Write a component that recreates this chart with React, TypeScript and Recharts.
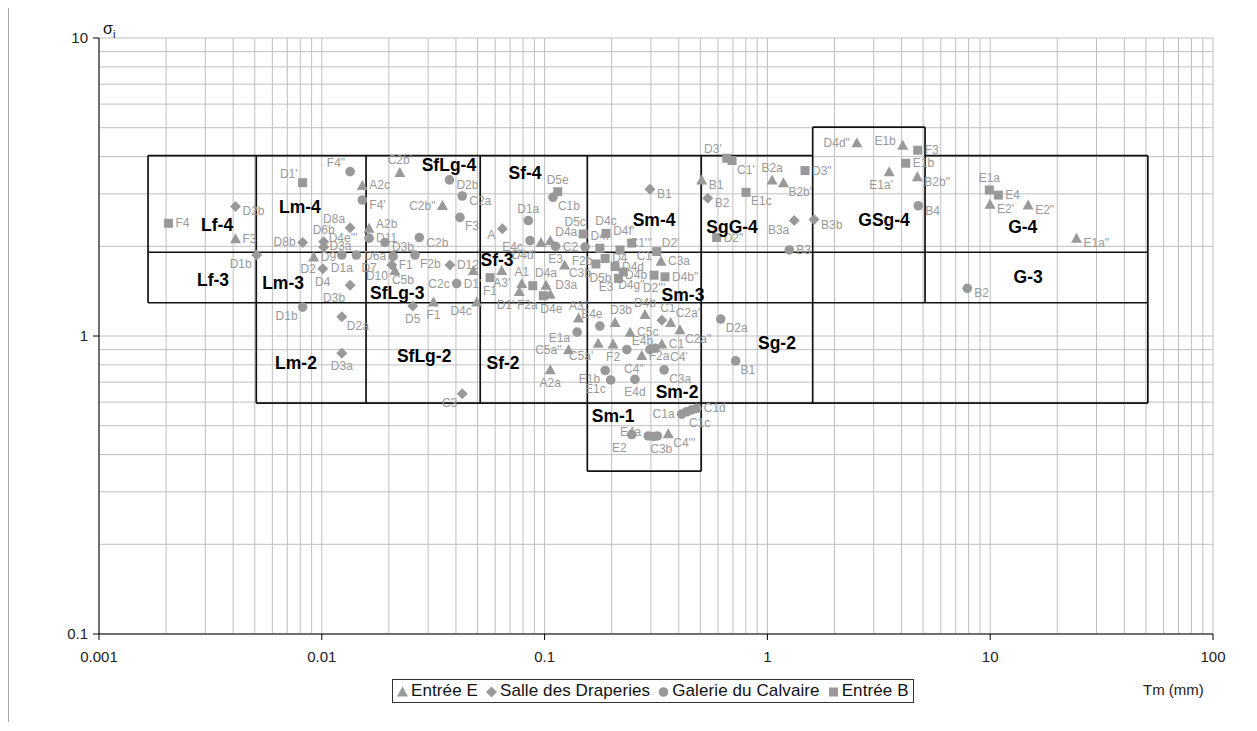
import React from 'react';
import { ScatterChart, Scatter, XAxis, YAxis, ReferenceLine } from 'recharts';

// [Tm (mm), sigma, label, label side, second label?, its side?]
type Pt = [number, number, string, string, string?, string?];

const entreeE: Pt[] = [
  [0.0041, 2.12, 'F3', 'r'],
  [0.0092, 1.84, 'D9', 'r'],
  [0.0152, 3.2, 'A2c', 'r'],
  [0.0163, 2.3, 'A2b', 'rt'],
  [0.0213, 1.66, 'D10', 'lb', 'C5b', 'bRu'],
  [0.0224, 3.54, "C2b'", 't'],
  [0.0348, 2.74, 'C2b"', 'l'],
  [0.0317, 1.3, 'F1', 'b'],
  [0.0479, 1.66, '', ''],
  [0.0496, 1.3, 'D4c', 'bl'],
  [0.0642, 1.66, "A3'", 'b'],
  [0.079, 1.5, 'A1', 't'],
  [0.077, 1.41, "D1'", 'bbl', 'F2a', 'bR'],
  [0.0963, 2.06, "D4d'", 'bbl'],
  [0.106, 2.09, 'D4a', 'tr'],
  [0.1015, 1.48, 'D4a', 't'],
  [0.106, 1.38, 'D3a', 'tr'],
  [0.123, 1.73, 'F2b', 'rt'],
  [0.142, 1.15, 'A3"', 't'],
  [0.128, 0.9, 'C5a"', 'l'],
  [0.106, 0.77, 'A2a', 'b'],
  [0.174, 0.945, "C5a'", 'bbl'],
  [0.203, 0.94, 'F2', 'b'],
  [0.207, 1.11, 'D3b', 'tR'],
  [0.242, 1.03, 'C5c', 'r'],
  [0.273, 0.86, 'F2a', 'r', 'C4"', 'bL'],
  [0.282, 1.18, 'D4b', 't'],
  [0.336, 0.94, 'C1', 'r'],
  [0.368, 1.11, "C2a'", 'tr'],
  [0.405, 1.05, 'C2a"', 'br'],
  [0.359, 0.47, "C4'''", 'br'],
  [0.333, 1.78, 'C3a', 'r'],
  [0.507, 3.34, 'B1', 'rb'],
  [1.05, 3.34, 'B2a', 't'],
  [1.18, 3.27, "B2b'", 'br'],
  [2.52, 4.45, 'D4d"', 'l'],
  [4.05, 4.37, 'E1b', 'lt'],
  [3.52, 3.56, "E1a'", 'bL'],
  [4.71, 3.42, 'B2b"', 'rb'],
  [9.98, 2.77, "E2'", 'rb'],
  [14.8, 2.75, 'E2"', 'rb'],
  [24.4, 2.13, 'E1a"', 'rb'],
];

const salleDraperies: Pt[] = [
  [0.0041, 2.72, 'D2b', 'rb'],
  [0.0051, 1.87, 'D1b', 'bl'],
  [0.0082, 2.06, 'D8b', 'l'],
  [0.0102, 2.07, 'D6b', 't'],
  [0.0102, 1.99, "D4e'''", 'tr'],
  [0.0101, 1.68, 'D2', 'l', 'D4', 'b'],
  [0.0134, 2.31, 'D8a', 'tl'],
  [0.0134, 1.48, 'D3b', 'bbl'],
  [0.0123, 1.16, 'D2a', 'br'],
  [0.0123, 0.875, 'D3a', 'b'],
  [0.0206, 1.73, 'F1', 'r'],
  [0.0376, 1.73, 'D12', 'r'],
  [0.0256, 1.26, 'D5', 'b'],
  [0.0427, 0.64, 'C3', 'bl'],
  [0.0646, 2.29, 'A', 'lb'],
  [0.297, 3.11, 'B1', 'rb'],
  [0.54, 2.9, 'B2', 'rb'],
  [0.336, 1.13, 'C1', 'tR'],
  [1.32, 2.44, 'B3a', 'bl'],
  [1.62, 2.46, 'B3b', 'rb'],
];

const galerieCalvaire: Pt[] = [
  [0.0082, 1.25, 'D1b', 'bl'],
  [0.0134, 3.56, 'F4"', 'tl'],
  [0.0152, 2.86, "F4'", 'rb'],
  [0.0374, 3.34, 'D2b', 'rb'],
  [0.0427, 2.95, 'C2a', 'rb'],
  [0.0417, 2.5, 'F3', 'br'],
  [0.0163, 2.13, 'D11', 'r'],
  [0.0192, 2.06, 'D3b', 'rb'],
  [0.0274, 2.14, 'C2b', 'rb'],
  [0.0123, 1.87, 'D1a', 'b'],
  [0.0143, 1.87, 'D3a', 'tl', 'D7', 'bbr'],
  [0.0209, 1.85, 'D6a', 'l'],
  [0.0262, 1.87, 'F2b', 'br'],
  [0.0403, 1.5, "D1'", 'r', 'C2c', 'l'],
  [0.0845, 2.44, 'D1a', 't'],
  [0.109, 2.92, 'C1b', 'br'],
  [0.086, 2.09, 'E4c', 'lb'],
  [0.112, 2.0, 'E3', 'b'],
  [0.152, 1.99, 'C2', 'l'],
  [0.177, 1.08, 'E4e', 'tL'],
  [0.14, 1.03, 'E1a', 'lb'],
  [0.234, 0.9, 'E4b', 'tr'],
  [0.297, 0.9, '', ''],
  [0.313, 0.91, "C4'", 'brr'],
  [0.344, 0.77, 'C3a', 'br'],
  [0.187, 0.766, 'E1b', 'bl'],
  [0.198, 0.712, 'E1c', 'bl'],
  [0.2545, 0.715, 'E4d', 'b'],
  [0.412, 0.547, 'C1a', 'l'],
  [0.434, 0.557, '', ''],
  [0.457, 0.565, 'C1c', 'bR'],
  [0.482, 0.572, 'C1d', 'r'],
  [0.292, 0.462, 'E4a', 'lt'],
  [0.3075, 0.46, 'C3b', 'bR'],
  [0.3206, 0.462, '', ''],
  [0.246, 0.467, 'E2', 'bbl'],
  [0.617, 1.14, 'D2a', 'br'],
  [0.72, 0.825, 'B1', 'br'],
  [1.254, 1.944, 'B3', 'r'],
  [4.756, 2.736, 'B4', 'rb'],
  [7.894, 1.446, 'B2', 'rb'],
];

const entreeB: Pt[] = [
  [0.00205, 2.39, 'F4', 'r'],
  [0.0082, 3.27, "D1'", 'tl'],
  [0.0569, 1.57, 'F1', 'b'],
  [0.0885, 1.475, '', ''],
  [0.0987, 1.365, 'D4e', 'bR'],
  [0.1145, 3.05, 'D5e', 't'],
  [0.149, 2.2, 'D5c', 'tL'],
  [0.1886, 2.21, 'D4c', 't'],
  [0.177, 1.97, 'D4f', 't'],
  [0.17, 1.745, 'C3b', 'bl'],
  [0.218, 1.944, '', ''],
  [0.246, 2.05, "D4f'", 'tL', 'C1"', 'bbr'],
  [0.3186, 1.92, "C1'''", 'tl', "D2'", 'tr'],
  [0.187, 1.82, 'D4', 'r'],
  [0.207, 1.71, 'D4d', 'r'],
  [0.2255, 1.64, 'D4g"', 'bR'],
  [0.2145, 1.56, 'D5b', 'l', 'E3', 'bl'],
  [0.31, 1.6, 'D4b', 'l', "D2'''", 'b'],
  [0.347, 1.58, 'D4b"', 'r'],
  [0.657, 3.95, "D3'", 'tl'],
  [0.694, 3.88, "C1'", 'br'],
  [0.802, 3.035, 'E1c', 'br'],
  [1.475, 3.59, 'D3"', 'r'],
  [0.592, 2.14, 'D2"', 'r'],
  [4.726, 4.2, 'F3', 'r'],
  [4.176, 3.8, 'E1b', 'r'],
  [9.91, 3.09, 'E1a', 't'],
  [10.88, 2.97, 'E4', 'r'],
];

// facies classes: [name, Tm, sigma]
const classNames: [string, number, number][] = [
  ['Lf-4', 0.00339, 2.36],
  ['Lf-3', 0.00325, 1.54],
  ['Lm-4', 0.00798, 2.71],
  ['Lm-3', 0.0067, 1.51],
  ['Lm-2', 0.00766, 0.81],
  ['SfLg-4', 0.0372, 3.75],
  ['SfLg-3', 0.0218, 1.39],
  ['SfLg-2', 0.0288, 0.86],
  ['Sf-4', 0.0817, 3.52],
  ['Sf-3', 0.0612, 1.8],
  ['Sf-2', 0.0651, 0.81],
  ['Sm-4', 0.31, 2.45],
  ['Sm-3', 0.418, 1.37],
  ['Sm-2', 0.393, 0.649],
  ['Sm-1', 0.203, 0.54],
  ['SgG-4', 0.694, 2.32],
  ['Sg-2', 1.104, 0.947],
  ['GSg-4', 3.34, 2.45],
  ['G-4', 14.0, 2.32],
  ['G-3', 14.8, 1.58],
];

// class box edges: horizontal [y, x1, x2], vertical [x, y1, y2]
const boxH: [number, number, number][] = [
  [4.03, 0.00166, 1.597],
  [4.03, 5.1, 51],
  [5.02, 1.597, 5.1],
  [1.91, 0.00166, 51],
  [1.293, 0.00166, 51],
  [0.595, 0.00508, 51],
  [0.352, 0.1555, 0.5047],
];
const boxV: [number, number, number][] = [
  [0.00166, 1.293, 4.03],
  [0.00508, 0.595, 4.03],
  [0.0158, 0.595, 4.03],
  [0.0514, 0.595, 4.03],
  [0.1555, 0.352, 4.03],
  [0.5047, 0.352, 4.03],
  [1.597, 0.595, 5.02],
  [5.1, 1.293, 5.02],
  [51, 0.595, 4.03],
];

const xTicks = [0.001, 0.01, 0.1, 1, 10, 100];
const yTicks = [0.1, 1, 10];

const gridX: number[] = [];
[0.001, 0.01, 0.1, 1, 10].forEach((d) => {
  for (let k = 1; k <= 9; k++) gridX.push(+(k * d).toPrecision(3));
});
gridX.push(100);
const gridY: number[] = [];
[0.1, 1].forEach((d) => {
  for (let k = 1; k <= 9; k++) gridY.push(+(k * d).toPrecision(3));
});
gridY.push(10);

const GREY = '#999999';
const FONT = '"Liberation Sans", Arial, sans-serif';

const toRows = (pts: Pt[]) =>
  pts.map(([x, y, label, pos, label2, pos2]) => ({ x, y, label, pos, label2, pos2 }));

// label placement around a marker: [dx, dy, anchor]
const OFFS: Record<string, [number, number, string]> = {
  r: [7, 4, 'start'],
  rb: [7, 9, 'start'],
  rt: [7, 0, 'start'],
  l: [-7, 4, 'end'],
  lb: [-7, 10, 'end'],
  lt: [-7, 0, 'end'],
  t: [0, -8, 'middle'],
  tL: [-8, -8, 'middle'],
  tR: [6, -8, 'middle'],
  b: [0, 17, 'middle'],
  bL: [-8, 17, 'middle'],
  bR: [8, 17, 'middle'],
  bRu: [8, 14, 'middle'],
  tr: [5, -5, 'start'],
  tl: [-5, -5, 'end'],
  br: [5, 13, 'start'],
  bl: [-5, 13, 'end'],
  bbl: [-5, 17, 'end'],
  bbr: [5, 17, 'start'],
  brr: [15, 13, 'start'],
};

function marker(kind: string, cx: number, cy: number) {
  if (kind === 'tri')
    return <polygon points={`${cx},${cy - 5.5} ${cx + 5.5},${cy + 4.5} ${cx - 5.5},${cy + 4.5}`} fill={GREY} />;
  if (kind === 'dia')
    return <polygon points={`${cx},${cy - 5.5} ${cx + 5.5},${cy} ${cx},${cy + 5.5} ${cx - 5.5},${cy}`} fill={GREY} />;
  if (kind === 'sq') return <rect x={cx - 4.5} y={cy - 4.5} width={9} height={9} fill={GREY} />;
  return <circle cx={cx} cy={cy} r={4.8} fill={GREY} />;
}

function ptLabel(text: string | undefined, pos: string | undefined, cx: number, cy: number) {
  if (!text || !pos || !OFFS[pos]) return null;
  const o = OFFS[pos];
  return (
    <text x={cx + o[0]} y={cy + o[1]} textAnchor={o[2] as any} fontSize={12} fontFamily={FONT} fill={GREY}>
      {text}
    </text>
  );
}

const makeShape = (kind: string) => (props: any) => {
  const { cx, cy, payload } = props;
  return (
    <g>
      {marker(kind, cx, cy)}
      {ptLabel(payload.label, payload.pos, cx, cy)}
      {ptLabel(payload.label2, payload.pos2, cx, cy)}
    </g>
  );
};

const classShape = (props: any) => (
  <text x={props.cx} y={props.cy + 6} textAnchor="middle" fontSize={17.5} fontWeight="bold" fontFamily={FONT} fill="#000">
    {props.payload.name}
  </text>
);

const legendItems = [
  { kind: 'tri', name: 'Entrée E' },
  { kind: 'dia', name: 'Salle des Draperies' },
  { kind: 'circ', name: 'Galerie du Calvaire' },
  { kind: 'sq', name: 'Entrée B' },
];

export default function App() {
  const classRows = classNames.map(([name, x, y]) => ({ name, x, y }));
  return (
    <div style={{ position: 'relative', width: 1240, height: 715, fontFamily: FONT }}>
      <div style={{ position: 'absolute', left: 0, top: -8, width: 1, height: 722, background: '#a8a8a8' }} />
      <ScatterChart width={1240} height={715} margin={{ top: 30, right: 35, bottom: 59, left: 31 }}>
        <XAxis
          type="number"
          dataKey="x"
          scale="log"
          domain={[0.001, 100]}
          ticks={xTicks}
          allowDataOverflow
          height={30}
          stroke="#000"
          tickMargin={11}
          tick={{ fill: '#222', fontSize: 15, fontFamily: FONT }}
        />
        <YAxis
          type="number"
          dataKey="y"
          scale="log"
          domain={[0.1, 10]}
          ticks={yTicks}
          allowDataOverflow
          width={60}
          stroke="#000"
          tickMargin={5}
          tick={{ fill: '#222', fontSize: 15, fontFamily: FONT }}
        />
        {gridX.map((v) => (
          <ReferenceLine key={'gx' + v} x={v} stroke="#bfbfbf" strokeWidth={1} />
        ))}
        {gridY.map((v) => (
          <ReferenceLine key={'gy' + v} y={v} stroke="#bfbfbf" strokeWidth={1} />
        ))}
        {boxH.map(([y, x1, x2], i) => (
          <ReferenceLine key={'bh' + i} segment={[{ x: x1, y }, { x: x2, y }]} stroke="#111" strokeWidth={1.7} />
        ))}
        {boxV.map(([x, y1, y2], i) => (
          <ReferenceLine key={'bv' + i} segment={[{ x, y: y1 }, { x, y: y2 }]} stroke="#111" strokeWidth={1.7} />
        ))}
        <Scatter name="Entrée E" data={toRows(entreeE)} shape={makeShape('tri')} isAnimationActive={false} />
        <Scatter name="Salle des Draperies" data={toRows(salleDraperies)} shape={makeShape('dia')} isAnimationActive={false} />
        <Scatter name="Galerie du Calvaire" data={toRows(galerieCalvaire)} shape={makeShape('circ')} isAnimationActive={false} />
        <Scatter name="Entrée B" data={toRows(entreeB)} shape={makeShape('sq')} isAnimationActive={false} />
        <Scatter name="classes" data={classRows} shape={classShape} isAnimationActive={false} />
      </ScatterChart>
      <div style={{ position: 'absolute', left: 95, top: 12, fontSize: 16, color: '#111' }}>
        σ<sub style={{ fontSize: 11 }}>i</sub>
      </div>
      <div style={{ position: 'absolute', left: 1135, top: 673, fontSize: 15, color: '#222' }}>Tm (mm)</div>
      <div
        style={{
          position: 'absolute',
          left: 384,
          top: 671,
          border: '1px solid #333',
          padding: '1px 4px',
          fontSize: 17,
          lineHeight: '20px',
          letterSpacing: 0.1,
          color: '#111',
          display: 'flex',
          alignItems: 'center',
          whiteSpace: 'nowrap',
        }}
      >
        {legendItems.map((it, i) => (
          <span
            key={it.name}
            style={{ display: 'inline-flex', alignItems: 'center', marginRight: i < legendItems.length - 1 ? 8 : 0 }}
          >
            <svg width={11} height={11} style={{ marginRight: 3 }}>
              {marker(it.kind, 5.5, 6)}
            </svg>
            {it.name}
          </span>
        ))}
      </div>
    </div>
  );
}
